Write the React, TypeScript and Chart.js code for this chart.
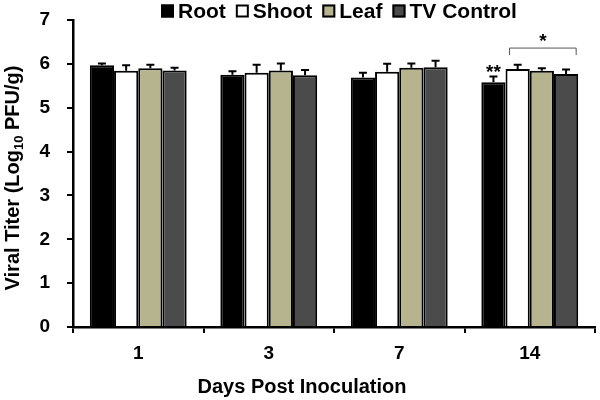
import React, { useEffect, useRef } from "react";
import { Chart, registerables } from "chart.js";

Chart.register(...registerables);

const categories = ["1", "3", "7", "14"];
const seriesNames = ["Root", "Shoot", "Leaf", "TV Control"];
const rootValues = [5.97, 5.75, 5.69, 5.58];
const rootErrors = [0.04, 0.08, 0.11, 0.13];
const shootValues = [5.84, 5.8, 5.82, 5.88];
const shootErrors = [0.13, 0.18, 0.18, 0.1];
const leafValues = [5.9, 5.85, 5.91, 5.84];
const leafErrors = [0.08, 0.16, 0.1, 0.06];
const tvValues = [5.85, 5.74, 5.92, 5.77];
const tvErrors = [0.06, 0.12, 0.15, 0.1];
const yTicks = [0, 1, 2, 3, 4, 5, 6, 7];
const xTitle = "Days Post Inoculation";

const colors = ["#000000", "#ffffff", "#b6b38f", "#4b4b4b"];
const FONT = '"Liberation Sans", Arial, sans-serif';

const errorBarPlugin = {
  id: "errorBars",
  afterDatasetsDraw(chart: any) {
    const { ctx } = chart;
    const yScale = chart.scales.y;
    chart.data.datasets.forEach((ds: any, di: number) => {
      const meta = chart.getDatasetMeta(di);
      meta.data.forEach((bar: any, i: number) => {
        const top = yScale.getPixelForValue(ds.data[i] + ds.errors[i]);
        ctx.save();
        ctx.strokeStyle = "#000";
        ctx.lineWidth = 2;
        ctx.beginPath();
        ctx.moveTo(bar.x, bar.y);
        ctx.lineTo(bar.x, top);
        ctx.moveTo(bar.x - 4, top);
        ctx.lineTo(bar.x + 4, top);
        ctx.stroke();
        ctx.restore();
      });
    });
  },
};

const annotationPlugin = {
  id: "annotations",
  afterDraw(chart: any) {
    const { ctx } = chart;
    const y = chart.scales.y;
    const last = categories.length - 1;
    const root = chart.getDatasetMeta(0).data[last];
    const shoot = chart.getDatasetMeta(1).data[last];
    const tv = chart.getDatasetMeta(3).data[last];
    ctx.save();
    ctx.fillStyle = "#000";
    ctx.font = `bold 19px ${FONT}`;
    ctx.textAlign = "center";
    ctx.textBaseline = "middle";
    ctx.fillText("**", root.x, y.getPixelForValue(rootValues[last] + rootErrors[last]) - 4);
    const by = y.getPixelForValue(6.36);
    const bEnd = y.getPixelForValue(6.2);
    const x1 = shoot.x - shoot.width / 2 + 4;
    const x2 = tv.x + tv.width / 2 - 2;
    ctx.strokeStyle = "#555";
    ctx.lineWidth = 1;
    ctx.beginPath();
    ctx.moveTo(x1, bEnd);
    ctx.lineTo(x1, by);
    ctx.lineTo(x2, by);
    ctx.lineTo(x2, bEnd);
    ctx.stroke();
    ctx.fillText("*", (x1 + x2) / 2, by - 6);
    ctx.restore();

    // Legend
    ctx.save();
    ctx.font = `bold 21px ${FONT}`;
    ctx.textBaseline = "middle";
    ctx.textAlign = "left";
    let x = 161;
    const cy = 11;
    seriesNames.forEach((name, i) => {
      ctx.fillStyle = colors[i];
      ctx.fillRect(x, cy - 6.5, 13, 13);
      ctx.strokeStyle = "#000";
      ctx.lineWidth = 2;
      ctx.strokeRect(x + 1, cy - 5.5, 11, 11);
      ctx.fillStyle = "#000";
      ctx.fillText(name, x + 17, cy + 1);
      x += 17 + ctx.measureText(name).width + 10;
    });
    ctx.restore();

    // X title centred on the figure
    ctx.save();
    ctx.font = `bold 20px ${FONT}`;
    ctx.fillStyle = "#000";
    ctx.textAlign = "center";
    ctx.textBaseline = "alphabetic";
    ctx.fillText(xTitle, 302, 393);
    ctx.restore();

    // Y title with subscript
    ctx.save();
    ctx.translate(19, 178);
    ctx.rotate(-Math.PI / 2);
    ctx.fillStyle = "#000";
    ctx.textBaseline = "alphabetic";
    ctx.textAlign = "left";
    const big = `bold 20px ${FONT}`;
    const small = `bold 13px ${FONT}`;
    const p1 = "Viral Titer (Log";
    const p2 = "10";
    const p3 = " PFU/g)";
    ctx.font = big;
    const w1 = ctx.measureText(p1).width;
    const w3 = ctx.measureText(p3).width;
    ctx.font = small;
    const w2 = ctx.measureText(p2).width;
    let sx = -(w1 + w2 + w3) / 2;
    ctx.font = big;
    ctx.fillText(p1, sx, 0);
    sx += w1;
    ctx.font = small;
    ctx.fillText(p2, sx, 4);
    sx += w2;
    ctx.font = big;
    ctx.fillText(p3, sx, 0);
    ctx.restore();
  },
};

export default function App() {
  const ref = useRef<HTMLCanvasElement>(null);
  useEffect(() => {
    document.body.style.margin = "0";
    const seriesValues = [rootValues, shootValues, leafValues, tvValues];
    const seriesErrors = [rootErrors, shootErrors, leafErrors, tvErrors];
    const chart = new Chart(ref.current!, {
      type: "bar",
      data: {
        labels: categories,
        datasets: seriesNames.map((name, i) => ({
          label: name,
          data: seriesValues[i],
          errors: seriesErrors[i],
          backgroundColor: colors[i],
          borderColor: "#000",
          borderWidth: 2,
          barPercentage: 1,
          categoryPercentage: 0.742,
        })) as any,
      },
      options: {
        animation: false,
        responsive: false,
        layout: { padding: { top: 20, right: 5, left: 0, bottom: 0 } },
        plugins: {
          legend: { display: false },
          tooltip: { enabled: false },
        },
        scales: {
          x: {
            afterFit: (s: any) => {
              s.height = 73;
              s.paddingLeft = 0;
              s.paddingRight = 0;
            },
            grid: {
              display: true,
              drawOnChartArea: false,
              drawTicks: true,
              tickLength: 6,
              color: "#000",
              lineWidth: 2,
            },
            border: { display: true, color: "#000", width: 2.5 },
            ticks: {
              color: "#000",
              font: { family: FONT, size: 19, weight: "bold" },
              padding: 9,
            },
          },
          y: {
            min: 0,
            max: 7,
            afterFit: (s: any) => {
              s.width = 73;
              s.paddingTop = 0;
              s.paddingBottom = 0;
            },
            afterBuildTicks: (s: any) => {
              s.ticks = yTicks.map((v) => ({ value: v }));
            },
            grid: {
              display: true,
              drawOnChartArea: false,
              drawTicks: true,
              tickLength: 6,
              color: "#000",
              lineWidth: 2,
            },
            border: { display: true, color: "#000", width: 2.5 },
            ticks: {
              color: "#000",
              font: { family: FONT, size: 19, weight: "bold" },
              padding: 17,
            },
          },
        },
      },
      plugins: [errorBarPlugin, annotationPlugin],
    });
    return () => chart.destroy();
  }, []);
  return (
    <div style={{ width: 600, height: 400 }}>
      <canvas ref={ref} width={600} height={400} />
    </div>
  );
}
